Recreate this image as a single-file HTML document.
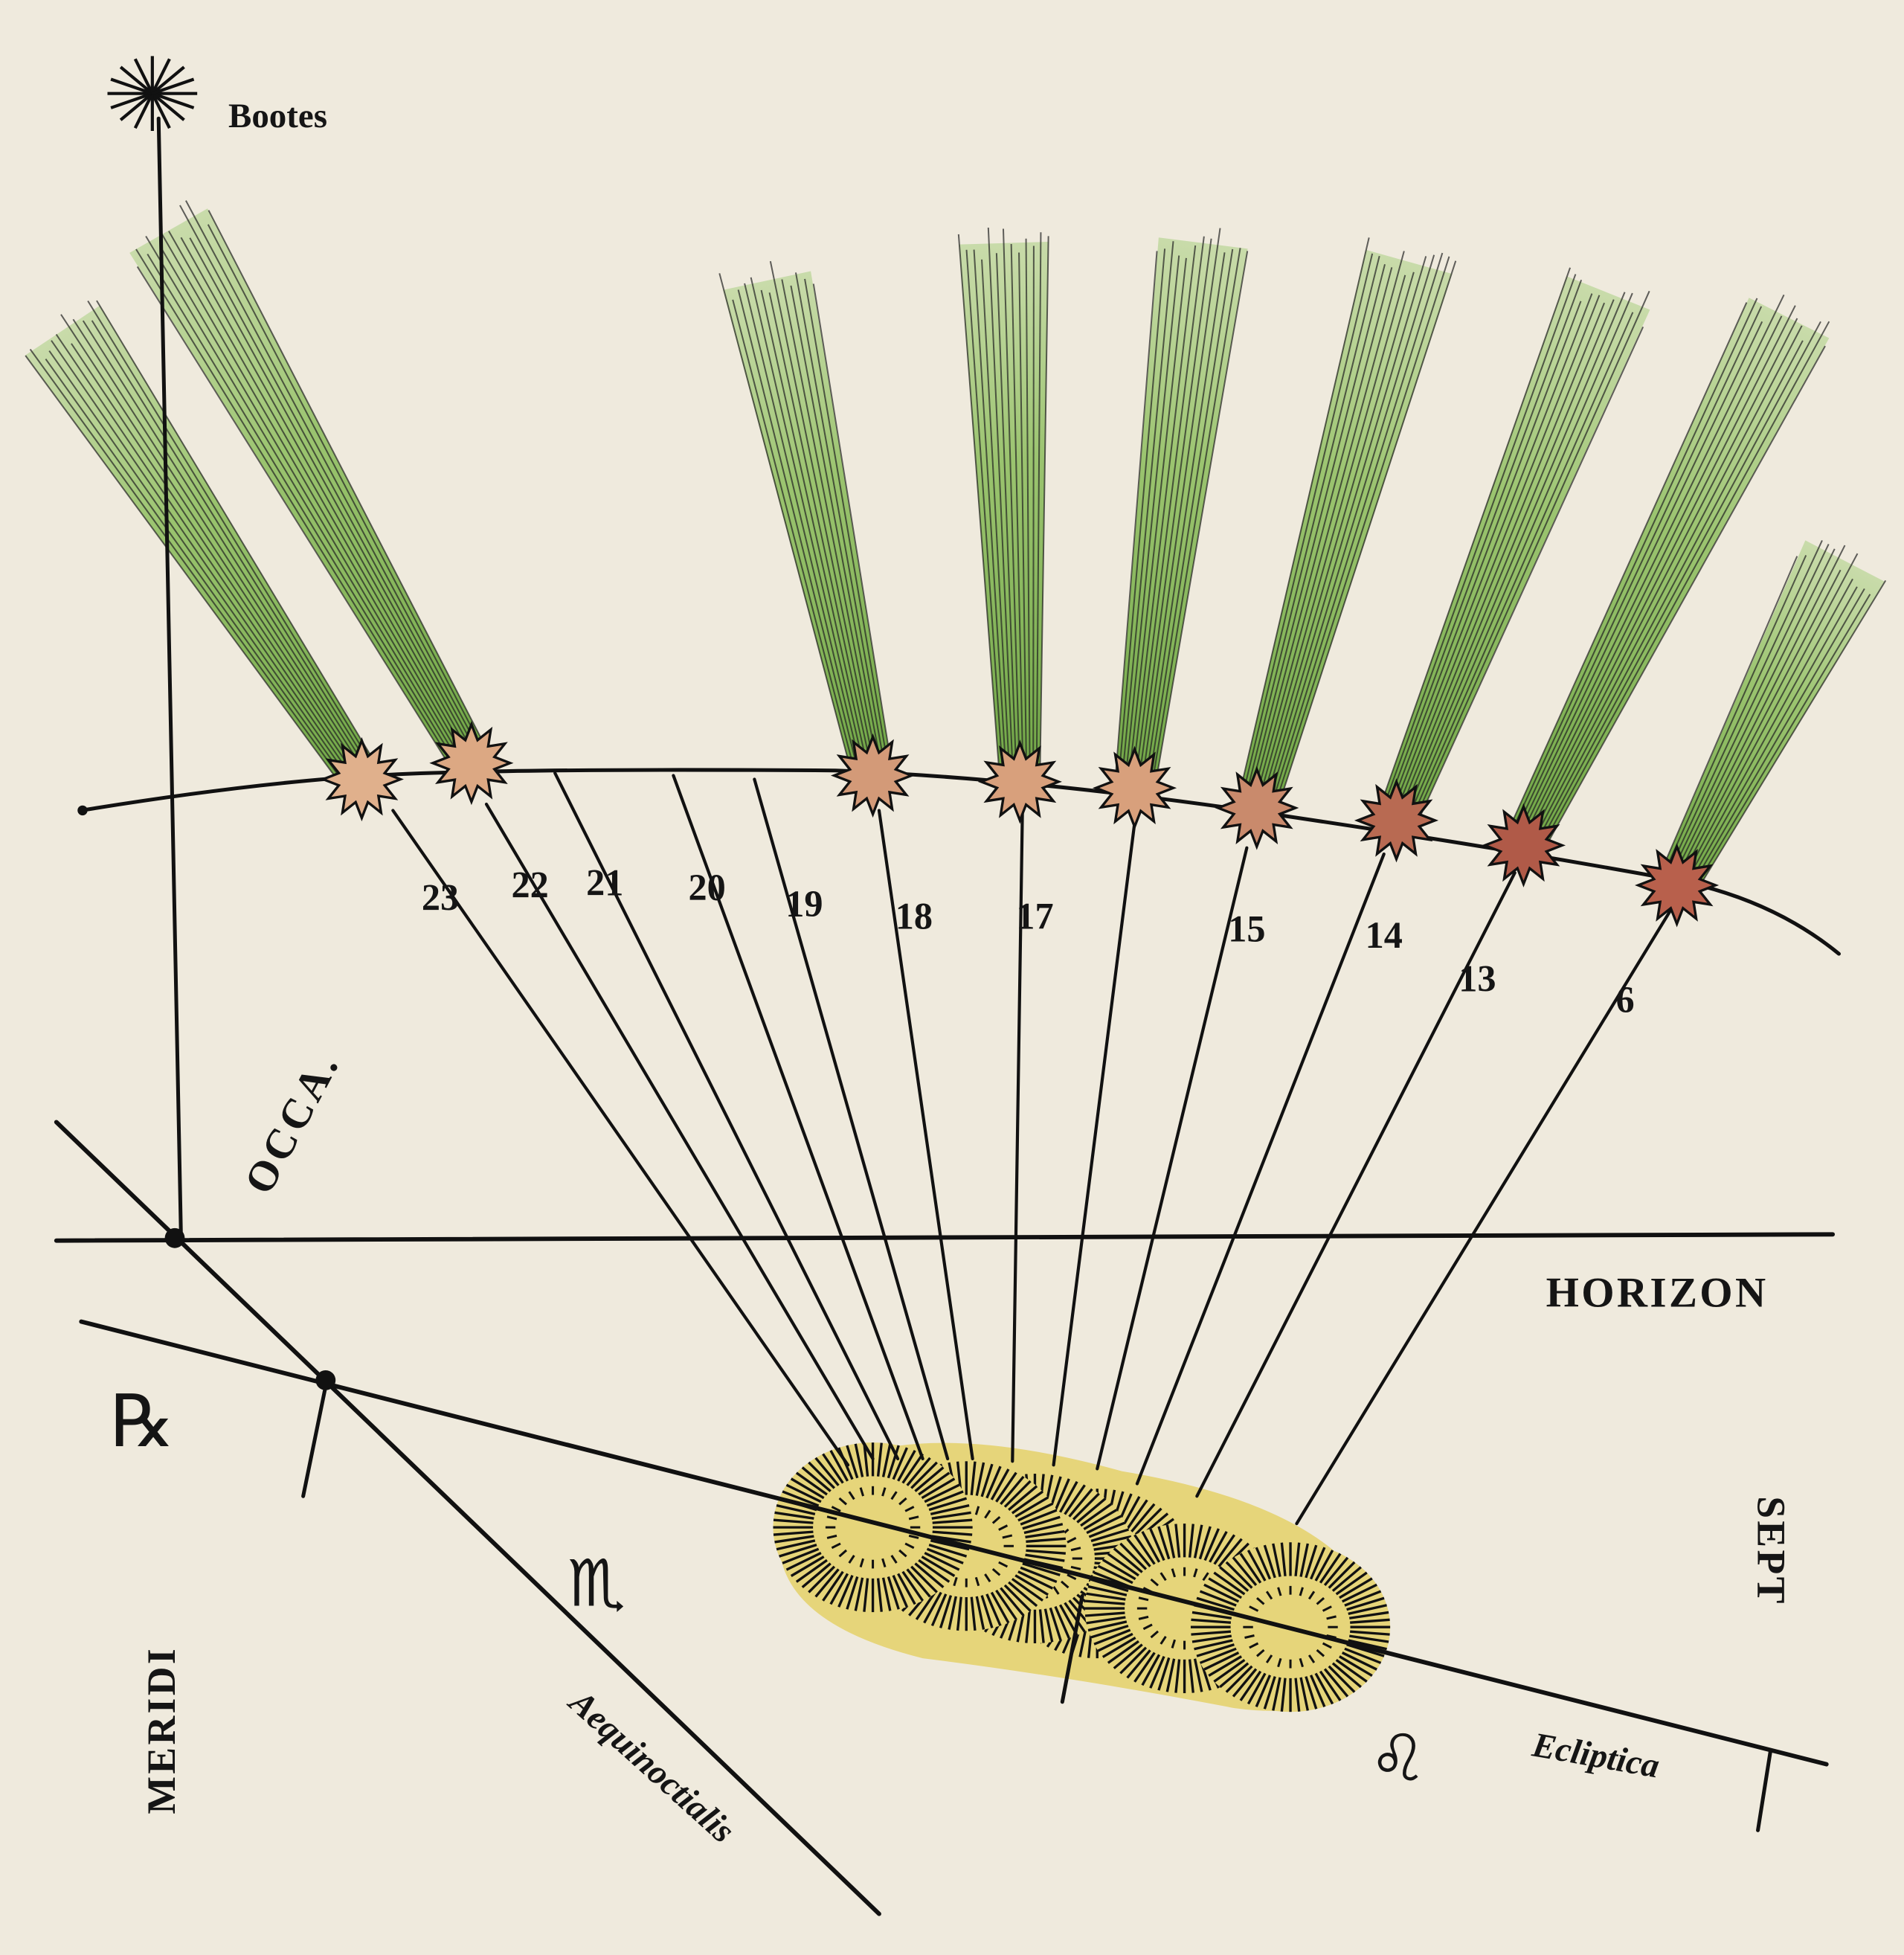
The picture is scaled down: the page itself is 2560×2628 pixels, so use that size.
<!DOCTYPE html>
<html><head><meta charset="utf-8"><style>
html,body{margin:0;padding:0;background:#efeadd}
svg{display:block}
text{font-family:"Liberation Serif",serif;fill:#151515;font-weight:bold}
.sym{font-family:"DejaVu Sans",sans-serif;font-weight:normal}
</style></head><body>
<svg id="s" width="2560" height="2628" viewBox="0 0 1527 1568" xmlns="http://www.w3.org/2000/svg">
<defs>
<linearGradient id="tg" x1="0" y1="0" x2="1" y2="0">
<stop offset="0" stop-color="#6aa43e" stop-opacity="0.95"/>
<stop offset="0.6" stop-color="#8cbd5c" stop-opacity="0.85"/>
<stop offset="1" stop-color="#a9cf80" stop-opacity="0.55"/>
</linearGradient>
</defs>
<rect width="1527" height="1568" fill="#efeadd"/>
<g id="tails"></g>
<g id="suns"></g>
<g stroke="#111" fill="none" stroke-linecap="round">
<line x1="127" y1="95" x2="145" y2="992" stroke-width="3"/>
<line x1="45" y1="995" x2="1470" y2="990" stroke-width="3.5"/>
<line x1="45" y1="900" x2="705" y2="1535" stroke-width="3.5"/>
<line x1="65" y1="1060" x2="1465" y2="1415" stroke-width="3.5"/>
<line x1="262" y1="1107" x2="243" y2="1200" stroke-width="3"/>
<line x1="1420" y1="1405" x2="1410" y2="1468" stroke-width="3"/>
<line x1="868" y1="1280" x2="852" y2="1365" stroke-width="3"/>
<path d="M65 650 Q200 628 300 622 T670 618 Q820 624 1000 650 T1340 705 Q1420 720 1475 765" stroke-width="3"/>
<g id="rays" stroke-width="2.5"></g>
</g>
<circle cx="140" cy="993" r="8" fill="#111"/>
<circle cx="261" cy="1107" r="8" fill="#111"/>
<circle cx="66" cy="650" r="4" fill="#111"/>
<g id="bootes" stroke="#111" stroke-width="2.5"></g>
<text x="183" y="102" font-size="28">Bootes</text>
<text x="1240" y="1048" font-size="34" letter-spacing="2">HORIZON</text>
<text transform="translate(215,960) rotate(-62)" font-size="34" letter-spacing="3">OCCA.</text>
<text transform="translate(140,1455) rotate(-90)" font-size="32" letter-spacing="2">MERIDI</text>
<text transform="translate(1410,1200) rotate(90)" font-size="32" letter-spacing="2">SEPT</text>
<text transform="translate(455,1368) rotate(42)" font-size="28" font-style="italic">Aequinoctialis</text>
<text transform="translate(1228,1408) rotate(10)" font-size="28" font-style="italic">Ecliptica</text>
<text x="88" y="1160" font-size="58" class="sym">℞</text>
<text x="455" y="1288" font-size="52" class="sym">♏&#xFE0E;</text>
<text x="1098" y="1428" font-size="52" class="sym">♌&#xFE0E;</text>
<g font-size="30">
<text x="338" y="730">23</text><text x="410" y="720">22</text><text x="470" y="718">21</text>
<text x="552" y="722">20</text><text x="630" y="735">19</text><text x="718" y="745">18</text>
<text x="815" y="745">17</text><text x="985" y="755">15</text><text x="1095" y="760">14</text>
<text x="1170" y="795">13</text><text x="1296" y="812">6</text>
</g>
<g id="heads"></g>
</svg>
<script>
const NS="http://www.w3.org/2000/svg";
function el(p,t,a){const e=document.createElementNS(NS,t);for(const k in a)e.setAttribute(k,a[k]);p.appendChild(e);return e;}
const tails=document.getElementById('tails'),heads=document.getElementById('heads'),rays=document.getElementById('rays'),suns=document.getElementById('suns');
const H=[[290,625,50,265,"#e0b08c"],[378,612,135,185,"#dca883"],[700,622,615,225,"#d39a78"],[818,627,805,195,"#d8a07c"],[910,632,965,195,"#d8a07c"],[1008,648,1130,210,"#c98a6c"],[1120,658,1290,235,"#b86a52"],[1222,678,1435,255,"#b05a48"],[1345,710,1480,450,"#b8604c"]];
let seed=7;function rnd(){seed=(seed*9301+49297)%233280;return seed/233280;}
H.forEach(h=>{const[x,y,tx,ty,c]=h;const dx=tx-x,dy=ty-y,L=Math.hypot(dx,dy);
 const w0=16,w1=36;
 const ang=Math.atan2(dy,dx)*180/Math.PI;
 const g=el(tails,'g',{transform:`translate(${x},${y}) rotate(${ang})`});
 el(g,'polygon',{points:`0,${-w0} ${L},${-w1} ${L},${w1} 0,${w0}`,fill:'url(#tg)'});
 for(let i=-6;i<=6;i++){const f=i/6;el(g,'line',{x1:0,y1:w0*f,x2:L+(rnd()*30-15),y2:w1*f,stroke:'#222','stroke-width':1.2,opacity:0.7});}
 let pts=[];for(let k=0;k<24;k++){const a=k*Math.PI/12,r=k%2?19:31;pts.push((x+r*Math.cos(a)).toFixed(1)+','+(y+r*Math.sin(a)).toFixed(1));}
 el(heads,'polygon',{points:pts.join(' '),fill:c,stroke:'#111','stroke-width':2});
});
const R=[[315,650,680,1175],[390,645,700,1170],[445,620,720,1170],[540,622,740,1170],[605,625,760,1170],[705,650,780,1170],[820,650,812,1172],[910,660,845,1175],[1000,680,880,1178],[1110,685,912,1190],[1215,700,960,1200],[1340,730,1040,1222]];
R.forEach(r=>el(rays,'line',{x1:r[0],y1:r[1],x2:r[2],y2:r[3]}));
el(suns,'path',{d:'M640 1190 Q720 1130 900 1180 Q1080 1210 1110 1300 Q1100 1385 990 1370 Q860 1345 740 1330 Q620 1300 625 1230 Z',fill:'#e6d57a'});
const S=[[700,1225],[775,1240],[830,1250],[880,1262],[950,1290],[1035,1305]];
const order=[3,2,1,0,4,5];
order.forEach(i=>{const[cx,cy]=S[i];const g=el(suns,'g',{stroke:'#111','stroke-width':2});
 el(g,'ellipse',{cx:cx,cy:cy,rx:80,ry:68,fill:'#e6d57a',stroke:'none'});
 for(let k=0;k<72;k++){const a=k*Math.PI/36;const co=Math.cos(a),sn=Math.sin(a);
  el(g,'line',{x1:cx+48*co,y1:cy+41*sn,x2:cx+80*co,y2:cy+68*sn});}
 for(let k=0;k<24;k++){const a=k*Math.PI/12;el(g,'line',{x1:cx+30*Math.cos(a),y1:cy+26*Math.sin(a),x2:cx+38*Math.cos(a),y2:cy+33*Math.sin(a),'stroke-width':1.8});}
});
const b=document.getElementById('bootes');
for(let k=0;k<16;k++){const a=k*Math.PI/8;el(b,'line',{x1:122,y1:75,x2:122+36*Math.cos(a),y2:75+30*Math.sin(a)});}
</script>
</body></html>
